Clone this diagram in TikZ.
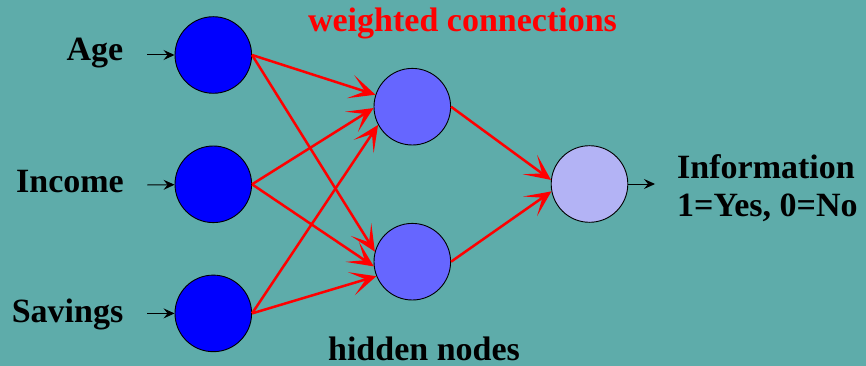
\documentclass[tikz,border=0pt]{standalone}
\usepackage{fontspec}
\setmainfont{Liberation Serif}
\usetikzlibrary{arrows.meta}
\definecolor{bgteal}{RGB}{94,172,170}
\definecolor{inblue}{RGB}{0,0,255}
\definecolor{hidblue}{RGB}{102,102,255}
\definecolor{outblue}{RGB}{179,179,245}
\definecolor{wred}{RGB}{255,0,0}
\begin{document}
\begin{tikzpicture}[x=1pt,y=-1pt,
  neuron/.style={circle,draw=black,line width=0.9pt,inner sep=0pt,minimum size=76.6pt},
  inneuron/.style={neuron,fill=inblue},
  hidneuron/.style={neuron,fill=hidblue},
  outneuron/.style={neuron,fill=outblue},
  label/.style={inner sep=0pt,font=\fontsize{34}{38}\selectfont\bfseries},
  wt/.style={draw=wred,line width=2.5pt,-{Stealth[length=26pt,width=24pt,inset=15pt]}},
  signal/.style={draw=black,line width=1pt,-{Stealth[length=11pt,width=10pt,inset=4pt]}}]
  % background
  \fill[bgteal] (0,0) rectangle (866,366);
  \useasboundingbox (0,0) rectangle (866,366);

  % neurons
  \node[inneuron] (age) at (213.3,55) {};
  \node[inneuron] (inc) at (213.3,184.3) {};
  \node[inneuron] (sav) at (213.3,313.4) {};
  \node[hidneuron] (h1) at (412.3,106.7) {};
  \node[hidneuron] (h2) at (412.3,261.7) {};
  \node[outneuron] (out) at (589.5,184) {};

  % labels
  \node[label,anchor=base east] (tAge) at (123.5,61) {Age};
  \node[label,anchor=base east] (tInc) at (124,192) {Income};
  \node[label,anchor=base east] (tSav) at (123.5,322.7) {Savings};
  \node[label,anchor=base,text=wred] (tW) at (462.5,31.7) {weighted connections};
  \node[label,anchor=base] (tH) at (424,360) {hidden nodes};
  \node[label,anchor=base west] (tI1) at (677,178.3) {Information};
  \node[label,anchor=base west] (tI2) at (677,216.7) {1=Yes, 0=No};

  % input signals
  \coordinate (ageIn) at (147.3,55);
  \coordinate (incIn) at (147.3,185);
  \coordinate (savIn) at (147.3,313.4);
  \coordinate (res) at (655,184);
  \draw[signal] (ageIn) -- (age);
  \draw[signal] (incIn) -- (inc);
  \draw[signal] (savIn) -- (sav);
  \draw[signal] (out.east) -- (res);

  % weighted connections
  \draw[wt] (age.east) -- (h1.162);
  \draw[wt] (inc.east) -- (h1.182);
  \draw[wt] (sav.east) -- (h1.208);
  \draw[wt] (age.east) -- (h2.165);
  \draw[wt] (inc.east) -- (h2.187);
  \draw[wt] (sav.east) -- (h2.202);
  \draw[wt] (h1.east) -- (out.174);
  \draw[wt] (h2.east) -- (out.191);
\end{tikzpicture}
\end{document}
